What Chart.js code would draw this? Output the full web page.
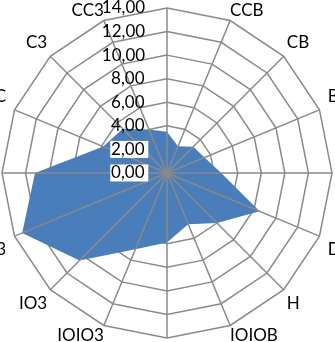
<!DOCTYPE html>
<html>
<head>
<meta charset="utf-8">
<script src="https://cdn.jsdelivr.net/npm/chart.js@4.4.0/dist/chart.umd.min.js"></script>
<style>
html,body{margin:0;padding:0;background:#fff;overflow:hidden}
#wrap{position:relative;width:335px;height:342px;overflow:hidden;background:#fff}
#c{position:absolute;left:0;top:0}
</style>
</head>
<body>
<div id="wrap"><canvas id="c"></canvas></div>
<script>
// ---- data ----
const categories = ["","CCB","CB","B","BB","D","H","IOIOB","","IOIO3","IO3","3","33","3C","C3","CC3"];
const seriesValues = [3.5,2.45,3.15,3.45,4.6,8.5,6.0,4.7,5.9,7.0,10.5,13.3,11.2,5.85,5.3,4.0];
const tickValues = [0,2,4,6,8,10,12,14];
const axisMax = 14;

// ---- styles / layout ----
const FAMILY = 'Lato, "Open Sans", sans-serif';
const TICK_FONT = {family: FAMILY, size: 17};
const PL_FONT = {family: FAMILY, size: 17};
const GRID = '#8a8a8a';
const FILL = '#4A7EBB';
const TARGET = {cx: 167, cy: 173, r: 165};
const GAP = 21;
const PL_PAD_BASE = -10.5, PL_PAD_SIDE = 13;
const plPadding = c => {
  const a = 2 * Math.PI * c.index / categories.length;
  const s = Math.sin(a);
  return PL_PAD_BASE + PL_PAD_SIDE * s * s;
};

function build(){
  const mc = document.createElement('canvas').getContext('2d');
  mc.font = TICK_FONT.size + 'px ' + FAMILY;
  const sp = mc.measureText(' ').width;
  const fmt = v => Math.round(v).toFixed(2).replace('.', ',');
  const wmax = Math.max(...tickValues.map(v => mc.measureText(fmt(v)).width));
  const T = 2 * (wmax + GAP);
  const w1 = mc.measureText(fmt(0)).width;
  function label(v){
    const s = fmt(v);
    const w = mc.measureText(s).width;
    const nL = Math.max(0, Math.round((wmax - w) / sp));
    const nR = Math.max(0, Math.round((T - nL * sp - w) / sp));
    return ' '.repeat(nL) + s + ' '.repeat(nR);
  }
  const setTicks = s => { s.ticks = tickValues.map(v => ({value: v})); };

  function makeConfig(){
    return {
      type: 'radar',
      data: {
        labels: categories,
        datasets: [{
          data: seriesValues,
          rAxisID: 'r',
          backgroundColor: FILL,
          borderWidth: 0,
          fill: true,
          pointRadius: 0,
          pointHoverRadius: 0
        }]
      },
      options: {
        responsive: false,
        animation: false,
        events: [],
        layout: {padding: 0},
        plugins: {legend: {display: false}, tooltip: {enabled: false}},
        scales: {
          r: {
            min: 0, max: axisMax,
            afterBuildTicks: setTicks,
            grid: {color: GRID, lineWidth: 1.5},
            angleLines: {display: false},
            ticks: {display: true, color: 'rgba(0,0,0,0)', font: TICK_FONT, showLabelBackdrop: false,
                    backdropPadding: 0, callback: label},
            pointLabels: {display: true, font: PL_FONT, color: '#000', padding: plPadding}
          },
          r2: {
            type: 'radialLinear', axis: 'r',
            min: -0.001, max: axisMax,
            afterBuildTicks: setTicks,
            grid: {display: false, z: 1},
            angleLines: {display: true, color: GRID, lineWidth: 1.5},
            ticks: {display: true, z: 1, color: '#000', font: TICK_FONT,
                    showLabelBackdrop: c => !!(c.tick && c.tick.value <= 2),
                    backdropColor: '#fff',
                    backdropPadding: {top: 0, bottom: 0, left: GAP + w1 + 2 - T / 2, right: -GAP + 2 - T / 2},
                    callback: label},
            pointLabels: {display: true, font: PL_FONT, color: 'rgba(0,0,0,0)', padding: plPadding}
          }
        }
      }
    };
  }

  const canvas = document.getElementById('c');
  let W = 380, H = 380, chart = null;
  for (let k = 0; k < 10; k++){
    if (chart) chart.destroy();
    canvas.width = W; canvas.height = H;
    canvas.style.width = W + 'px'; canvas.style.height = H + 'px';
    chart = new Chart(canvas, makeConfig());
    const d = TARGET.r - chart.scales.r.drawingArea;
    if (Math.abs(d) < 0.5) break;
    W = Math.round(W + 2 * d); H = Math.round(H + 2 * d);
  }
  const s = chart.scales.r;
  canvas.style.left = (TARGET.cx - s.xCenter) + 'px';
  canvas.style.top = (TARGET.cy - s.yCenter) + 'px';
}

if (document.fonts && document.fonts.load) {
  document.fonts.load('17px Lato').then(build, build);
} else {
  build();
}
</script>
</body>
</html>
